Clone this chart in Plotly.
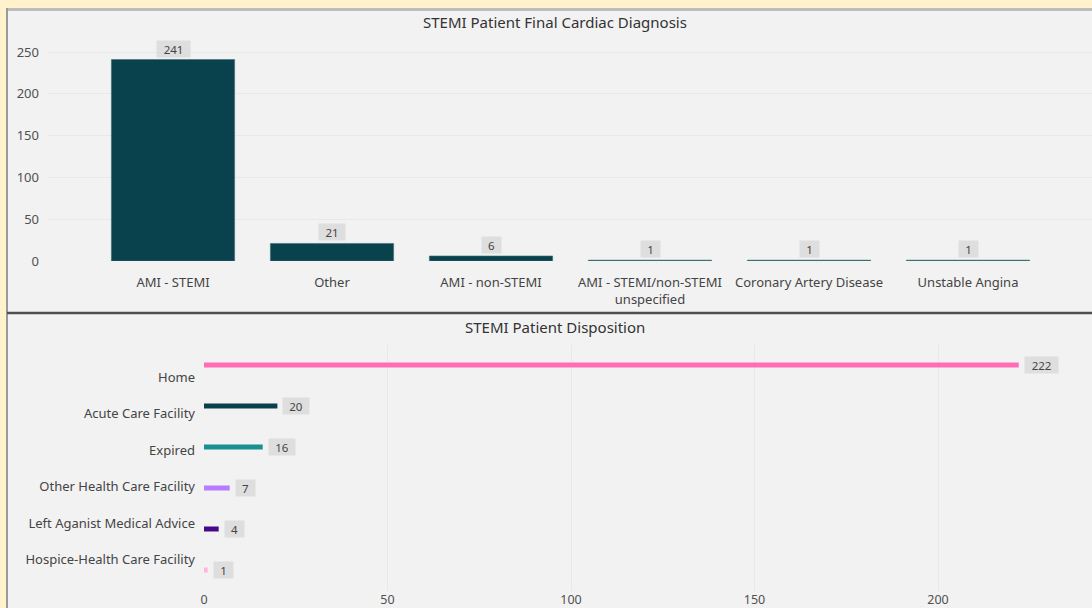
import plotly.graph_objects as go

# ---- data ----
diag_categories = ["AMI - STEMI", "Other", "AMI - non-STEMI",
                   "AMI - STEMI/non-STEMI<br>unspecified", "Coronary Artery Disease", "Unstable Angina"]
diag_values = [241, 21, 6, 1, 1, 1]

disp_categories = ["Home", "Acute Care Facility", "Expired", "Other Health Care Facility",
                   "Left Aganist Medical Advice", "Hospice-Health Care Facility"]
disp_values = [222, 20, 16, 7, 4, 1]
disp_colors = ["#FF6EB4", "#0B3F4C", "#17918F", "#B77BFF", "#46098C", "#FFB6D9"]

diag_ticks = [0, 50, 100, 150, 200, 250]
disp_ticks = [0, 50, 100, 150, 200]

W, H = 1092, 608
FONT = "Segoe UI, Noto Sans, sans-serif"
TXT = "#505050"
LABEL_BG = "#DEDEDE"


def py(p):
    return 1 - p / H


def px(p):
    return p / W


fig = go.Figure()

# top bar chart
fig.add_trace(go.Bar(
    x=diag_categories, y=diag_values, marker=dict(color="#09424D", line=dict(color="#3C7078", width=0.6)),
    width=0.775, xaxis="x", yaxis="y", hoverinfo="x+y", showlegend=False))

# bottom horizontal bars
fig.add_trace(go.Bar(
    x=disp_values, y=disp_categories, orientation="h", marker=dict(color=disp_colors, line=dict(width=0)),
    width=0.12, xaxis="x2", yaxis="y3", hoverinfo="x+y", showlegend=False))

# invisible helper trace for the category label axis
fig.add_trace(go.Scatter(
    x=[0] * len(disp_categories), y=list(range(len(disp_categories))), mode="markers",
    marker=dict(opacity=0), xaxis="x2", yaxis="y4", hoverinfo="skip", showlegend=False))

annotations = []
for c, v in zip(diag_categories, diag_values):
    t = str(v)
    annotations.append(dict(
        x=c, y=v, xref="x", yref="y", text=t, showarrow=False, yanchor="bottom", yshift=2,
        bgcolor=LABEL_BG, font=dict(family=FONT, size=11.5, color="#444"),
        width=7 * len(t) + 12, height=16, borderpad=0))
for c, v in zip(disp_categories, disp_values):
    t = str(v)
    annotations.append(dict(
        x=v, y=c, xref="x2", yref="y3", text=t, showarrow=False, xanchor="left", xshift=5,
        bgcolor=LABEL_BG, font=dict(family=FONT, size=11.5, color="#444"),
        width=7 * len(t) + 12, height=16, borderpad=0))

annotations.append(dict(x=px(555), y=py(22), xref="paper", yref="paper", showarrow=False,
                        xanchor="center", yanchor="middle",
                        text="STEMI Patient Final Cardiac Diagnosis",
                        font=dict(family=FONT, size=15, color="#333")))
annotations.append(dict(x=px(555), y=py(327), xref="paper", yref="paper", showarrow=False,
                        xanchor="center", yanchor="middle",
                        text="STEMI Patient Disposition",
                        font=dict(family=FONT, size=15, color="#333")))

shapes = [
    dict(type="rect", xref="paper", yref="paper", x0=px(6), x1=1, y0=0, y1=py(8),
         fillcolor="#F2F2F2", line=dict(width=0), layer="below"),
    dict(type="line", xref="paper", yref="paper", x0=px(6), x1=1, y0=py(9.5), y1=py(9.5),
         line=dict(color="#BDBDBD", width=3), layer="above"),
    dict(type="line", xref="paper", yref="paper", x0=px(7), x1=px(7), y0=0, y1=py(8),
         line=dict(color="#9A9A9A", width=2), layer="above"),
    dict(type="line", xref="paper", yref="paper", x0=px(7), x1=1, y0=py(313), y1=py(313),
         line=dict(color="#4F4F4F", width=2.5), layer="above"),
]

top_px_per = (261 - 52) / 250.0
top_dom_top = 30
top_range_max = (261 - top_dom_top) / top_px_per

cat_w = 159.0
c0 = 173.0

fig.update_layout(
    width=W, height=H, autosize=False,
    margin=dict(l=0, r=0, t=0, b=0, pad=0),
    paper_bgcolor="#FFF2CC",
    plot_bgcolor="rgba(0,0,0,0)",
    font=dict(family=FONT, size=13, color=TXT),
    bargap=0.2,
    xaxis=dict(domain=[px(48), 1], type="category", automargin=False,
               range=[(48 - c0) / cat_w, (W - c0) / cat_w],
               showgrid=False, zeroline=False, showline=False, ticks="",
               ticklabelstandoff=12, tickfont=dict(size=13, color="#444"), anchor="y"),
    yaxis=dict(domain=[py(261), py(top_dom_top)], range=[0, top_range_max], automargin=False,
               tickvals=diag_ticks, showgrid=True, gridcolor="#E8E8E8", gridwidth=1,
               zeroline=False, showline=False, ticks="", ticklabelstandoff=8,
               tickfont=dict(size=13, color=TXT), anchor="x"),
    xaxis2=dict(domain=[px(204), 1], range=[0, (W - 204) / ((938 - 204) / 200.0)], automargin=False,
                tickvals=disp_ticks, showgrid=True, gridcolor="#E8E8E8", gridwidth=1,
                zeroline=False, showline=False, ticks="", tickfont=dict(size=12.5, color=TXT),
                anchor="y3", ticklabelstandoff=0),
    yaxis3=dict(domain=[py(590.5), py(344.5)], type="category", automargin=False,
                categoryorder="array", categoryarray=disp_categories,
                range=[5.5, -0.5], showticklabels=False, showgrid=False,
                zeroline=False, showline=False, ticks="", anchor="x2"),
    yaxis4=dict(domain=[py(590.5), py(344.5)], overlaying="y3", anchor="x2", side="left",
                automargin=False,
                range=[(590.5 - 377) / 36.5, (344.5 - 377) / 36.5],
                tickvals=list(range(len(disp_categories))), ticktext=disp_categories,
                showgrid=False, zeroline=False, showline=False, ticks="",
                ticklabelstandoff=8, tickfont=dict(size=13, color="#444")),
    annotations=annotations,
    shapes=shapes,
)

fig.write_html(
    "out.html",
    config={"displayModeBar": False, "responsive": False},
    post_script=("document.documentElement.style.margin='0';document.documentElement.style.padding='0';"
                 "document.body.style.margin='0';document.body.style.padding='0';"
                 "document.body.style.overflow='hidden';"),
)
